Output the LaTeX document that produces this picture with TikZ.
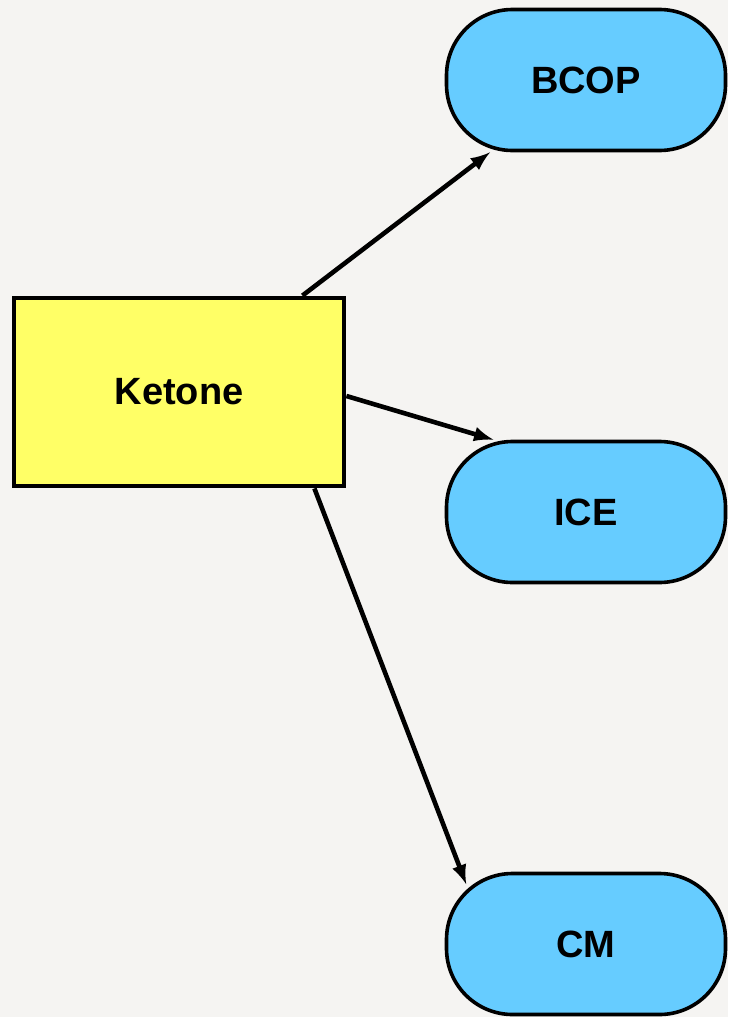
\documentclass[tikz,border=0pt]{standalone}
\usepackage{fontspec}
\setmainfont{Liberation Sans}
\usepackage{tikz}

\definecolor{paper}{HTML}{F5F4F2}
\definecolor{ketoneyellow}{HTML}{FFFF66}
\definecolor{methodblue}{HTML}{66CCFF}

\begin{document}
\begin{tikzpicture}[
		x=0.5pt,y=-0.5pt,
		every node/.style={draw,line width=1.8pt,font=\fontsize{19}{23}\selectfont\bfseries,align=center},
		source/.style={fill=ketoneyellow,line width=2.4pt,minimum width=165pt,minimum height=94pt},
		method/.style={fill=methodblue,rounded corners=33pt,minimum width=139.5pt,minimum height=70.5pt},
		link/.style={draw,-latex,line width=2.3pt}
		]
		\useasboundingbox[fill=paper] (0,0) rectangle (728,1017);
		\node[source] (ketone) at (179,392) {Ketone};
		\node[method] (bcop) at (586,80) {BCOP};
		\node[method] (ice) at (586,512) {ICE};
		\node[method] (cm) at (586,944) {CM};
		\draw[link] ([xshift=-22pt]ketone.north east) -- (bcop.217.5);
		\draw[link] ([yshift=-2pt]ketone.east) -- (ice.142.5);
		\draw[link] ([xshift=-16pt]ketone.south east) -- ([xshift=10.75pt,yshift=-6.25pt]cm.north west);
	\end{tikzpicture}
\end{document}
